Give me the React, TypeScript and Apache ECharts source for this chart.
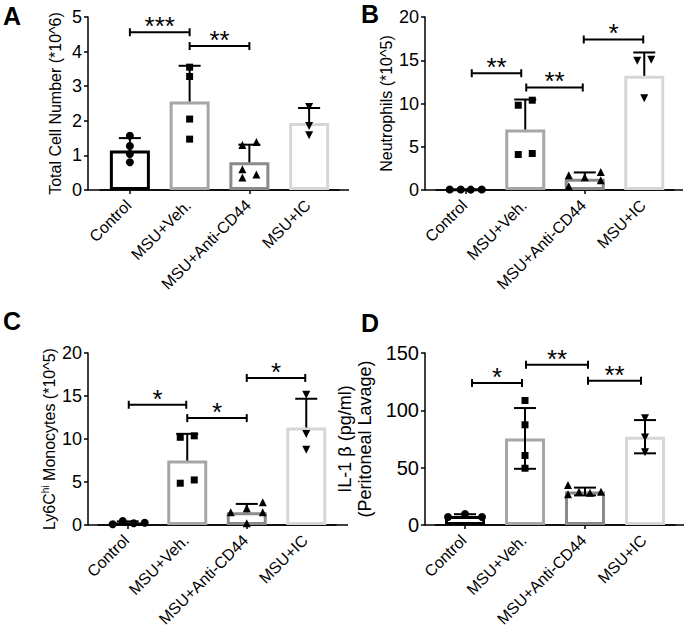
import React, { useEffect, useRef } from 'react';
import * as echarts from 'echarts';

const FONT = '"Liberation Sans", Arial, Helvetica, sans-serif';

// ---------------- data ----------------
const categories = ['Control', 'MSU+Veh.', 'MSU+Anti-CD44', 'MSU+IC'];

// Panel A: Total Cell Number (*10^6)
const aMeans = [1.14, 2.56, 0.8, 1.94];
const aSD = [0.36, 1.03, 0.51, 0.43];
const aControl = [1.57, 1.27, 1.04, 0.8];
const aVeh = [3.55, 3.28, 2.05, 1.47];
const aAnti = [1.3, 1.39, 0.6, 0.36, 0.45];
const aIC = [2.4, 1.85, 1.58];
const aBrackets: [number, number, number, string][] = [
  [0, 1, 4.56, '***'],
  [1, 2, 4.16, '**'],
];
const aTicks = { max: 5, interval: 1 };

// Panel B: Neutrophils (*10^5)
const bMeans = [0.05, 7.0, 1.31, 13.2];
const bSD = [0, 3.46, 0.72, 2.7];
const bControl = [0.05, 0.06, 0.04, 0.05];
const bVeh = [9.8, 10.38, 4.1, 4.22];
const bAnti = [1.7, 0.42, 1.47, 2.09, 1.12];
const bIC = [14.95, 15.07, 10.6];
const bBrackets: [number, number, number, string][] = [
  [0, 1, 13.5, '**'],
  [1, 2, 11.85, '**'],
  [2, 3, 17.4, '*'],
];
const bTicks = { max: 20, interval: 5 };

// Panel C: Ly6Chi Monocytes (*10^5)
const cMeans = [0.25, 7.49, 1.48, 11.34];
const cSD = [0.17, 3.11, 0.97, 3.34];
const cControl = [0.08, 0.47, 0.2, 0.27];
const cVeh = [10.2, 10.37, 4.86, 5.24];
const cAnti = [1.48, 1.94, 0.2, 2.64, 1.48];
const cIC = [15.15, 10.57, 8.74];
const cBrackets: [number, number, number, string][] = [
  [0, 1, 13.98, '*'],
  [1, 2, 12.43, '*'],
  [2, 3, 17.1, '*'],
];
const cTicks = { max: 20, interval: 5 };

// Panel D: IL-1 beta (pg/ml)
const dMeans = [7.9, 75.5, 29.2, 77.0];
const dSD = [1.5, 26.5, 3.4, 14.5];
const dControl = [7.0, 9.6, 7.0];
const dVeh = [108.6, 87.4, 60.6, 49.5];
const dAnti = [34.9, 26.8, 29.1, 28.2, 29.1];
const dIC = [93.2, 76.3, 63.5];
const dBrackets: [number, number, number, string][] = [
  [0, 1, 123.8, '*'],
  [1, 2, 139.8, '**'],
  [2, 3, 125.8, '**'],
];
const dTicks = { max: 150, interval: 50 };

// ---------------- layout / style ----------------
const BAR_COLORS = ['#000000', '#a6a6a6', '#8a8a8a', '#d6d6d6'];
const SYMBOLS = ['circle', 'rect', 'triangle', 'triangle'];
const SYMBOL_SIZES = [8, 7, 8, 8];
const SYMBOL_ROT = [0, 0, 0, 180];

const GRIDS = [
  { left: 100, top: 17, width: 239, height: 173, offset: 12, nameGap: 24, extR: 10, tickFont: 18, nameFont: 16 },
  { left: 436, top: 17, width: 238, height: 173, offset: 11, nameGap: 29, extR: 9, tickFont: 18, nameFont: 16 },
  { left: 98, top: 353, width: 238, height: 172, offset: 10, nameGap: 30, extR: 12, tickFont: 18, nameFont: 16 },
  { left: 435, top: 353, width: 240, height: 172, offset: 10, nameGap: 50, extR: 9, tickFont: 20, nameFont: 18 },
];
const CAT_LABEL = { font: 16, dx: -7, dy: 7 };

const JITTER = [
  [[0, 0, 0, 0], [0, 0, 0, 0], [-7, 7, -7, -7, 7], [0, 0, 0]],
  [[-16, -5, 5, 16], [-7, 7, -7, 7], [-16, -16, 0, 16, 16], [-7, 7, 0]],
  [[-15, -5, 6, 17], [-7, 7, -7, 7], [-16, 0, 0, 16, 16], [0, 0, 0]],
  [[-17, 0, 17], [0, 0, 0, 0], [-17, -17, -6, 5, 16], [0, 0, 0]],
];

const BRACKET_INSETS = [
  [[0, 0], [0, 0]],
  [[6, -4], [1, -2], [-1, -1]],
  [[1, -1], [0, 0], [0, -1]],
  [[7, -3], [1, 3], [3, -4]],
];

const PANELS = [
  { means: aMeans, sd: aSD, groups: [aControl, aVeh, aAnti, aIC], brackets: aBrackets, ticks: aTicks, both: false,
    name: 'Total Cell Number (*10^6)' },
  { means: bMeans, sd: bSD, groups: [bControl, bVeh, bAnti, bIC], brackets: bBrackets, ticks: bTicks, both: false,
    name: 'Neutrophils (*10^5)' },
  { means: cMeans, sd: cSD, groups: [cControl, cVeh, cAnti, cIC], brackets: cBrackets, ticks: cTicks, both: false,
    name: '{a|Ly6C}{s|hi}{a| Monocytes (*10^5)}' },
  { means: dMeans, sd: dSD, groups: [dControl, dVeh, dAnti, dIC], brackets: dBrackets, ticks: dTicks, both: true,
    name: 'IL-1 β (pg/ml)\n(Peritoneal Lavage)' },
];

const PANEL_LABELS = [
  { text: 'A', x: 3, y: 16 },
  { text: 'B', x: 361, y: 14 },
  { text: 'C', x: 3, y: 321 },
  { text: 'D', x: 361, y: 323 },
];

function buildOption() {
  const grid: any[] = [];
  const xAxis: any[] = [];
  const yAxis: any[] = [];
  const series: any[] = [];

  PANELS.forEach((p, k) => {
    const g = GRIDS[k];
    grid.push({ left: g.left, top: g.top, width: g.width, height: g.height });
    xAxis.push({
      type: 'category',
      gridIndex: k,
      data: categories,
      axisLine: { show: true, lineStyle: { color: '#000', width: 1.5 } },
      axisTick: { show: true, alignWithLabel: true, length: 4, lineStyle: { color: '#000', width: 1.5 } },
      axisLabel: { show: false },
      splitLine: { show: false },
    });
    yAxis.push({
      type: 'value',
      gridIndex: k,
      min: 0,
      max: p.ticks.max,
      interval: p.ticks.interval,
      offset: g.offset,
      axisLine: { show: true, lineStyle: { color: '#000', width: 1.5 } },
      axisTick: { show: true, length: 4, lineStyle: { color: '#000', width: 1.5 } },
      axisLabel: { color: '#000', fontSize: g.tickFont, margin: 6, fontFamily: FONT },
      splitLine: { show: false },
      name: p.name,
      nameLocation: 'middle',
      nameGap: g.nameGap,
      nameTextStyle: {
        color: '#000',
        fontSize: g.nameFont,
        fontFamily: FONT,
        lineHeight: g.nameFont + 2,
        rich: {
          a: { fontSize: 16, fontFamily: FONT, color: '#000', lineHeight: 18 },
          s: { fontSize: 10, fontFamily: FONT, color: '#000', verticalAlign: 'top', lineHeight: 18 },
        },
      },
    });

    // x-axis line (extended to the y-axis and past the last bar) and rotated category labels
    series.push({
      type: 'custom',
      xAxisIndex: k,
      yAxisIndex: k,
      silent: true,
      z: 1,
      data: [[0, 0]],
      renderItem: (params: any, api: any) => {
        const cs = params.coordSys;
        const y0 = api.coord([0, 0])[1];
        const children: any[] = [
          {
            type: 'line',
            shape: { x1: cs.x - g.offset, y1: y0, x2: cs.x + cs.width + g.extR, y2: y0 },
            style: { stroke: '#000', lineWidth: 1.5 },
          },
        ];
        categories.forEach((c, i) => {
          const px = api.coord([i, 0])[0];
          children.push({
            type: 'text',
            x: px + CAT_LABEL.dx,
            y: y0 + CAT_LABEL.dy,
            rotation: Math.PI / 4,
            style: {
              text: c,
              fontSize: CAT_LABEL.font,
              fontFamily: FONT,
              fill: '#000',
              align: 'right',
              verticalAlign: 'top',
            },
          });
        });
        return { type: 'group', children };
      },
    });

    // bars
    series.push({
      type: 'bar',
      xAxisIndex: k,
      yAxisIndex: k,
      barWidth: 40,
      z: 2,
      data: p.means.map((v, i) => ({
        value: v,
        itemStyle: { color: '#ffffff', borderColor: BAR_COLORS[i], borderWidth: 3 },
      })),
    });

    // error bars
    series.push({
      type: 'custom',
      xAxisIndex: k,
      yAxisIndex: k,
      silent: true,
      z: 3,
      data: p.means.map((m, i) => [i, m, p.sd[i]]),
      renderItem: (params: any, api: any) => {
        const i = api.value(0);
        const m = api.value(1);
        const s = api.value(2);
        if (!s) return { type: 'group', children: [] };
        const top = api.coord([i, m + s]);
        const ym = api.coord([i, m])[1];
        const yb = api.coord([i, m - s])[1];
        const x = top[0];
        const st = { stroke: '#000', lineWidth: 2 };
        const ch: any[] = [
          { type: 'line', shape: { x1: x, y1: top[1], x2: x, y2: p.both ? yb : ym }, style: st },
          { type: 'line', shape: { x1: x - 11, y1: top[1], x2: x + 11, y2: top[1] }, style: st },
        ];
        if (p.both) ch.push({ type: 'line', shape: { x1: x - 11, y1: yb, x2: x + 11, y2: yb }, style: st });
        return { type: 'group', children: ch };
      },
    });

    // points
    const pts: any[] = [];
    p.groups.forEach((vals, gi) => {
      vals.forEach((v, j) => {
        pts.push({
          value: [gi, v],
          symbol: SYMBOLS[gi],
          symbolSize: SYMBOL_SIZES[gi],
          symbolRotate: SYMBOL_ROT[gi],
          symbolOffset: [JITTER[k][gi][j], 0],
        });
      });
    });
    series.push({
      type: 'scatter',
      xAxisIndex: k,
      yAxisIndex: k,
      z: 4,
      itemStyle: { color: '#000', opacity: 1 },
      data: pts,
    });

    // significance brackets
    series.push({
      type: 'custom',
      xAxisIndex: k,
      yAxisIndex: k,
      silent: true,
      z: 5,
      data: p.brackets.map((b) => [b[0], b[1], b[2]]),
      renderItem: (params: any, api: any) => {
        const b = p.brackets[params.dataIndex];
        const ins = BRACKET_INSETS[k][params.dataIndex];
        const p1 = api.coord([b[0], b[2]]);
        const p2 = api.coord([b[1], b[2]]);
        const x1 = p1[0] + ins[0];
        const x2 = p2[0] + ins[1];
        const y = p1[1];
        const st = { stroke: '#000', lineWidth: 2 };
        return {
          type: 'group',
          children: [
            { type: 'line', shape: { x1, y1: y, x2, y2: y }, style: st },
            { type: 'line', shape: { x1, y1: y - 4, x2: x1, y2: y + 4 }, style: st },
            { type: 'line', shape: { x1: x2, y1: y - 4, x2, y2: y + 4 }, style: st },
            {
              type: 'text',
              x: (x1 + x2) / 2,
              y: y - 6,
              style: {
                text: b[3],
                fontSize: 26,
                fontFamily: FONT,
                fill: '#000',
                align: 'center',
                verticalAlign: 'middle',
              },
            },
          ],
        };
      },
    });
  });

  const graphic = PANEL_LABELS.map((l) => ({
    type: 'text',
    x: l.x,
    y: l.y,
    style: {
      text: l.text,
      font: `bold 25px ${FONT}`,
      fill: '#000',
      align: 'left',
      verticalAlign: 'middle',
      textAlign: 'left',
      textVerticalAlign: 'middle',
    },
  }));

  return {
    animation: false,
    backgroundColor: '#ffffff',
    textStyle: { fontFamily: FONT },
    grid,
    xAxis,
    yAxis,
    series,
    graphic,
  };
}

export default function App() {
  const ref = useRef<HTMLDivElement>(null);
  useEffect(() => {
    if (!ref.current) return;
    const chart = echarts.init(ref.current, undefined, { renderer: 'svg' });
    chart.setOption(buildOption() as any);
    return () => chart.dispose();
  }, []);
  return (
    <div
      ref={ref}
      style={{ position: 'absolute', left: 0, top: 0, width: 685, height: 630 }}
    />
  );
}
